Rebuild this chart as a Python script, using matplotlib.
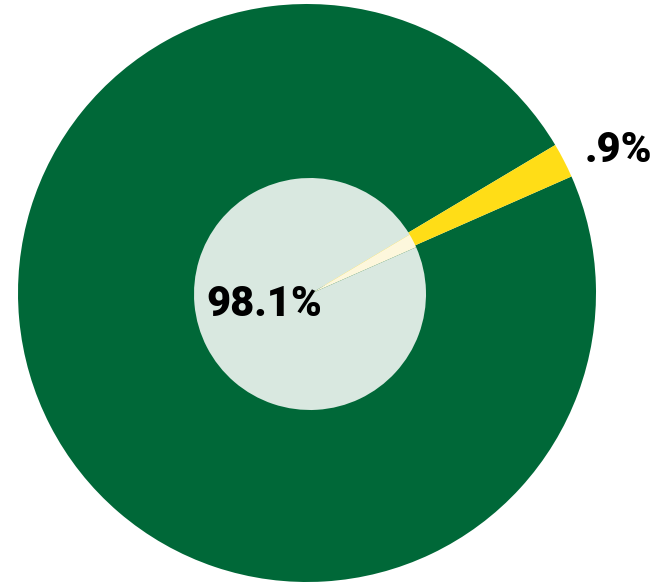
import matplotlib.pyplot as plt

# shares as drawn (outer ring) and the labels printed on the chart
labels = ["98.1%", ".9%"]
shares = [98.05, 1.95]
outer_colors = ["#006838", "#ffdd17"]
inner_colors = ["#d9e8e0", "#fdf7dc"]

fig = plt.figure(figsize=(6.65, 5.84), dpi=100)
ax = fig.add_axes([0, 0, 1, 1])

# outer ring
ax.pie(shares, colors=outer_colors, startangle=30.8, radius=289,
       center=(307, 291), wedgeprops=dict(linewidth=0), frame=True)
# inner disc
ax.pie(shares, colors=inner_colors, startangle=30.8, radius=116,
       center=(310, 290), wedgeprops=dict(linewidth=0), frame=True)

ax.set_xlim(0, 665)
ax.set_ylim(0, 584)
ax.set_aspect("equal")
ax.axis("off")

ax.text(264, 279, labels[0], ha="center", va="center", fontsize=30,
        fontweight="black", family="Roboto", color="black")
ax.text(618, 433, labels[1], ha="center", va="center", fontsize=30,
        fontweight="black", family="Roboto", color="black")

fig.savefig("out.png", dpi=100)
